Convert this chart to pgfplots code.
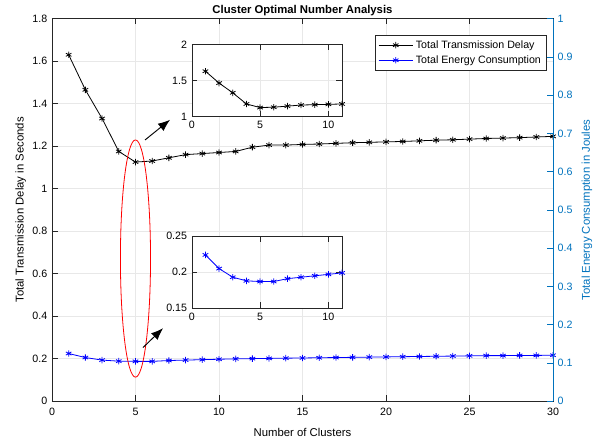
\documentclass[border=0pt]{standalone}
\usepackage{fontspec}
\setmainfont{Liberation Sans}
\usepackage{pgfplots}
\usepackage{pgfplotstable}
\pgfplotsset{compat=1.18}
\usetikzlibrary{arrows.meta}
\definecolor{mblue}{RGB}{0,114,189}
\definecolor{axgray}{RGB}{38,38,38}

\pgfplotstableread{
n delay energy
1 1.630 0.224
2 1.465 0.205
3 1.330 0.193
4 1.175 0.188
5 1.125 0.187
6 1.130 0.187
7 1.145 0.191
8 1.160 0.193
9 1.165 0.195
10 1.170 0.197
11 1.175 0.199
12 1.195 0.200
13 1.205 0.201
14 1.205 0.202
15 1.208 0.203
16 1.210 0.204
17 1.213 0.205
18 1.216 0.206
19 1.218 0.207
20 1.220 0.208
21 1.222 0.209
22 1.225 0.210
23 1.228 0.211
24 1.230 0.212
25 1.233 0.213
26 1.236 0.214
27 1.238 0.214
28 1.240 0.215
29 1.243 0.215
30 1.246 0.216
}\clusters

\pgfplotsset{
  mstyle/.style={
    scale only axis,
    /pgf/number format/assume math mode=true,
    tick label style={font=\fontsize{8}{9}\selectfont},
    label style={font=\fontsize{8.5}{10}\selectfont},
    axis line style={axgray},
    every tick/.style={axgray},
    grid style={gray!18},
  },
}

\begin{document}
\begin{tikzpicture}
% keep the reference's margins round the plot box
\useasboundingbox (-39pt,-30pt) rectangle (409pt,301pt);
\begin{axis}[
  mstyle,
  name=main,
  at={(0,0)}, anchor=south west,
  width=376pt, height=287pt,
  xmin=0, xmax=30, ymin=0, ymax=1.8,
  xtick={0,5,...,30},
  ytick={0,0.2,...,1.8},
  ytick pos=left,
  xtick pos=both,
  grid=major,
  xlabel={Number of Clusters},
  xlabel style={yshift=-2pt},
  x tick label style={yshift=-2pt},
  ylabel={Total Transmission Delay in Seconds},
  ylabel style={yshift=-2pt},
  title={\textbf{Cluster Optimal Number Analysis}},
  title style={font=\fontsize{8.5}{10}\selectfont, yshift=-7.5pt},
  legend style={at={(0.987,0.958)}, anchor=north east,
    font=\fontsize{8}{10}\selectfont, draw=axgray, inner sep=2pt,
    row sep=0pt},
  legend image code/.code={%
    \draw[mark repeat=2, mark phase=2, #1]
      plot coordinates {(0cm,0cm) (0.45cm,0cm) (0.9cm,0cm)};},
  legend cell align=left,
]
\addplot[black, mark=asterisk, mark size=2.4pt, line width=0.6pt] table[x=n, y=delay] {\clusters};
\addlegendentry{Total Transmission Delay}
\addplot[blue, mark=asterisk, mark size=2.4pt, line width=0.6pt] table[x=n, y=energy] {\clusters};
\addlegendentry{Total Energy Consumption}
\draw[red, line width=0.6pt] (axis cs:5,0.671) ellipse (11.3pt and 89pt);
\draw[black, line width=0.7pt, -{Latex[length=9pt, width=7pt]}] (axis cs:5.57,1.229) -- (axis cs:7.07,1.324);
\draw[black, line width=0.7pt, -{Latex[length=9pt, width=7pt]}] (axis cs:5.45,0.252) -- (axis cs:6.65,0.343);
\coordinate (insA) at (rel axis cs:0.279,0.744);
\coordinate (insB) at (rel axis cs:0.279,0.243);
\end{axis}

\begin{axis}[
  mstyle,
  width=376pt, height=287pt,
  at={(0,0)}, anchor=south west,
  axis x line=none,
  axis y line*=right,
  xmin=0, xmax=30, ymin=0, ymax=1,
  ytick={0,0.1,...,1},
  axis line style={mblue},
  y tick style={mblue},
  y tick label style={mblue},
  ylabel={Total Energy Consumption in Joules},
  ylabel style={mblue},
]
\end{axis}

\begin{axis}[
  mstyle,
  at={(insA)}, anchor=south west,
  width=112.8pt, height=54pt,
  xmin=0, xmax=11, ymin=1, ymax=2,
  xtick={0,5,10}, ytick={1,1.5,2},
  grid=major,
  axis background/.style={fill=white},
]
\addplot[black, mark=asterisk, mark size=2.4pt, line width=0.6pt, restrict x to domain=0:11] table[x=n, y=delay] {\clusters};
\end{axis}

\begin{axis}[
  mstyle,
  at={(insB)}, anchor=south west,
  width=112.8pt, height=54pt,
  xmin=0, xmax=11, ymin=0.15, ymax=0.25,
  xtick={0,5,10}, ytick={0.15,0.2,0.25},
  grid=major,
  axis background/.style={fill=white},
]
\addplot[blue, mark=asterisk, mark size=2.4pt, line width=0.6pt, restrict x to domain=0:11] table[x=n, y=energy] {\clusters};
\end{axis}
\end{tikzpicture}
\end{document}
